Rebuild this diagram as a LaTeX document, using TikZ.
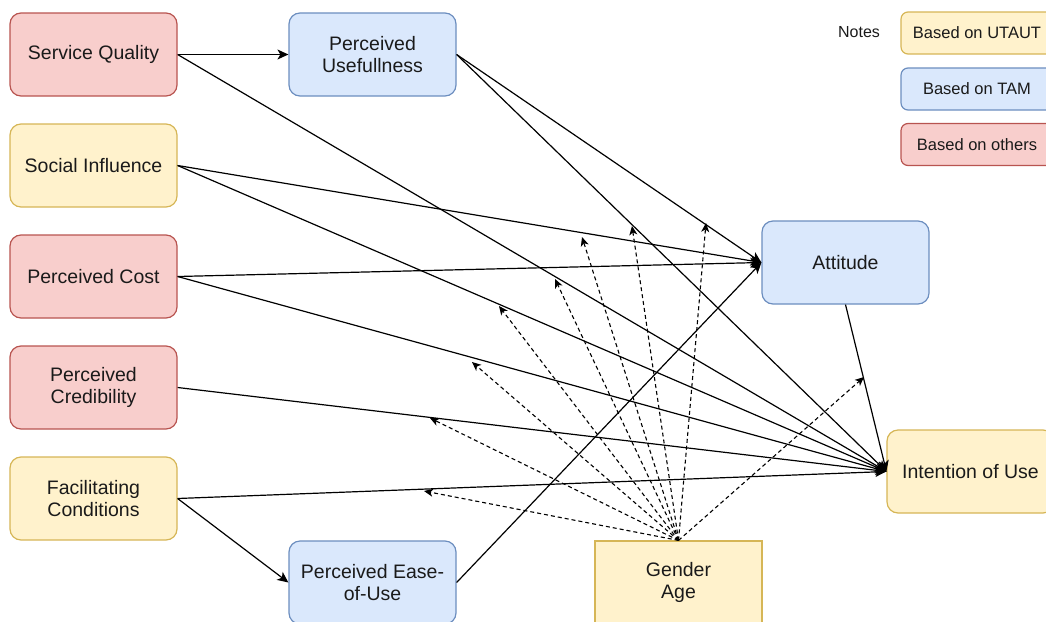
\documentclass[tikz,border=0pt]{standalone}
\usepackage{fontspec}
\setmainfont{Liberation Sans}
\usetikzlibrary{arrows.meta}
\definecolor{redfill}{HTML}{F8CECC}
\definecolor{redline}{HTML}{B85450}
\definecolor{bluefill}{HTML}{DAE8FC}
\definecolor{blueline}{HTML}{6C8EBF}
\definecolor{yelfill}{HTML}{FFF2CC}
\definecolor{yelline}{HTML}{D6B656}
\definecolor{txt}{HTML}{1A1A1A}
\begin{document}
\begin{tikzpicture}[x=1pt,y=-1pt,
  box/.style={line width=1.2pt, rounded corners=11pt, minimum width=167pt, minimum height=83pt,
    align=center, inner sep=0pt, text=txt, font=\fontsize{19.5}{22.5}\selectfont},
  redbox/.style={box, draw=redline, fill=redfill},
  bluebox/.style={box, draw=blueline, fill=bluefill},
  yelbox/.style={box, draw=yelline, fill=yelfill},
  legbox/.style={line width=1.2pt, rounded corners=7pt, minimum width=152pt, minimum height=42pt,
    inner sep=0pt, text=txt, font=\fontsize{16.5}{19}\selectfont},
  arr/.style={line width=1.2pt, draw=black, -{Stealth[length=11pt,width=10pt,inset=3pt]}},
  modarr/.style={line width=1.1pt, draw=black, dash pattern=on 4pt off 3pt,
    -{Stealth[length=9pt,width=8pt,inset=2.5pt]}}
]
\useasboundingbox (0,0) rectangle (1046,621);
\clip (0,0) rectangle (1046,621);

% nodes
\node[redbox]  (sq)  at (93.5,54.5)  {Service Quality};
\node[bluebox] (pu)  at (372.5,54.5) {Perceived\\Usefullness};
\node[yelbox]  (si)  at (93.5,165.5) {Social Influence};
\node[redbox]  (pc)  at (93.5,276.5) {Perceived Cost};
\node[redbox]  (pcr) at (93.5,387.5) {Perceived\\Credibility};
\node[yelbox]  (fc)  at (93.5,498.5) {Facilitating\\Conditions};
\node[bluebox] (pe)  at (372.5,582.5) {Perceived Ease-\\of-Use};
\node[bluebox] (at)  at (845.5,262.5) {Attitude};
\node[yelbox]  (iu)  at (970.5,471.5) {Intention of Use};
\node[yelbox, rounded corners=0pt] (ga) at (678.5,582.5) {Gender\\Age};

% legend
\node[text=txt, font=\fontsize{16}{19}\selectfont] (notes) at (859,32) {Notes};
\node[legbox, draw=yelline, fill=yelfill]  (lu) at (977,33)    {Based on UTAUT};
\node[legbox, draw=blueline, fill=bluefill] (lt) at (977,89)   {Based on TAM};
\node[legbox, draw=redline, fill=redfill]  (lo) at (977,144.5) {Based on others};

% solid connectors
\draw[arr] (sq.east) -- (pu.west);
\draw[arr] (sq.east) -- (iu.west);
\draw[arr] (pu.east) -- (at.west);
\draw[arr] (pu.east) -- (iu.west);
\draw[arr] (si.east) -- (at.west);
\draw[arr] (si.east) -- (iu.west);
\draw[arr] (pc.east) -- (at.west);
\draw[arr] (pc.east) -- (iu.west);
\draw[arr] (pcr.east) -- (iu.west);
\draw[arr] (fc.east) -- (iu.west);
\draw[arr] (fc.east) -- (pe.west);
\draw[arr] (pe.east) -- (at.west);
\draw[arr] (at.south) -- (iu.west);

% moderator targets
\coordinate (m1) at (424,491);
\coordinate (m2) at (430,418);
\coordinate (m3) at (472,362);
\coordinate (m4) at (499,306);
\coordinate (m5) at (555,279);
\coordinate (m6) at (582,237);
\coordinate (m7) at (632,226);
\coordinate (m8) at (706,223);
\coordinate (m9) at (864,377);
\foreach \m in {m1,m2,m3,m4,m5,m6,m7,m8,m9}
  \draw[modarr] (ga.north) -- (\m);
\end{tikzpicture}
\end{document}
